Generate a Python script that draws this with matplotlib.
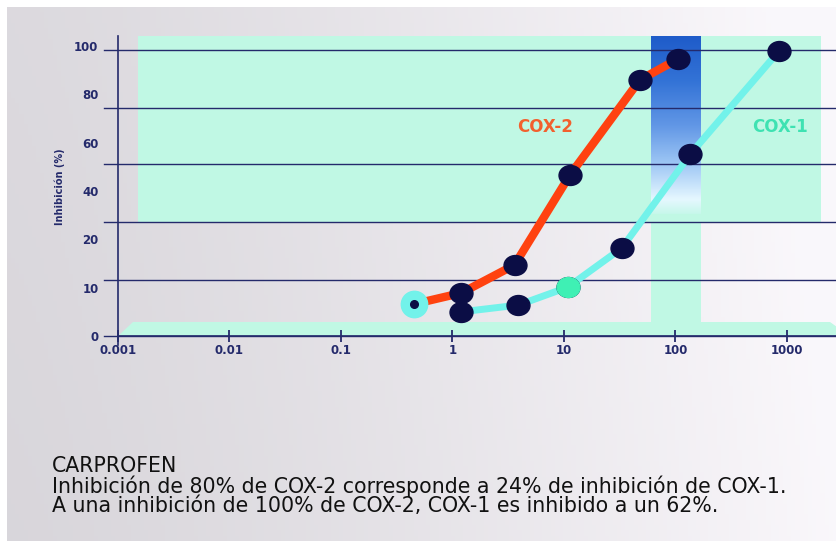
import numpy as np
import matplotlib
matplotlib.use("Agg")
import matplotlib.pyplot as plt
from matplotlib.path import Path
from matplotlib.patches import Polygon, Rectangle

# data (concentration, % inhibition)
cox2_conc = [0.45, 1.2, 3.6, 11.3, 48, 105]
cox2_inhib = [6.6, 8.9, 14.7, 46.6, 86.0, 94.6]
cox1_conc = [1.2, 3.9, 10.8, 33, 136, 850]
cox1_inhib = [5.0, 6.4, 10.1, 18.2, 55.3, 98.0]

y_ticks = [0, 10, 20, 40, 60, 80, 100]
x_ticks = [0.001, 0.01, 0.1, 1, 10, 100, 1000]
x_labels = ["0.001", "0.01", "0.1", "1", "10", "100", "1000"]

caption = ["CARPROFEN",
           "Inhibición de 80% de COX-2 corresponde a 24% de inhibición de COX-1.",
           "A una inhibición de 100% de COX-2, COX-1 es inhibido a un 62%."]

NAVY = "#242a6b"
MINT = "#c0f8e4"
RED = "#ff4210"
CYAN = "#72f2ea"

W, H = 837, 541
fig = plt.figure(figsize=(W / 100, H / 100), dpi=100, facecolor="white")

# decoration layer in pixel coordinates
bg = fig.add_axes([0, 0, 1, 1], zorder=0)
bg.set_xlim(0, W)
bg.set_ylim(H, 0)
bg.axis("off")

gx = np.linspace(0, 1, 200)
gy = np.linspace(0, 1, 100)
GX, GY = np.meshgrid(gx, gy)
left_c = np.array([0.85, 0.84, 0.86])
right_c = np.array([0.98, 0.97, 0.985])
t = np.clip(GX ** 1.3 + 0.1 * (1 - GY), 0, 1)[..., None]
grad = left_c * (1 - t) + right_c * t
bg.imshow(grad, extent=[7, W, H, 7], aspect="auto", zorder=0)

# upper mint panel
bg.add_patch(Rectangle((138, 36), 821 - 138, 222 - 36, color=MINT, lw=0, zorder=1))
# floor strip
bg.add_patch(Polygon([(118, 336), (133, 322), (830, 322), (837, 327), (837, 336)],
                     closed=True, color=MINT, lw=0, zorder=1))
# lower part of highlight band
bg.add_patch(Rectangle((651, 205), 50, 322 - 205, color=MINT, lw=0, zorder=1))
# blue gradient part of highlight band
stops = np.array([[0.12, 0.36, 0.79], [0.20, 0.45, 0.84], [0.38, 0.59, 0.90],
                  [0.62, 0.78, 0.96], [0.90, 0.97, 1.00], [0.78, 0.97, 0.92]])
pos = [0, 0.25, 0.5, 0.72, 0.92, 1.0]
ys = np.linspace(0, 1, 150)
col = np.stack([np.interp(ys, pos, stops[:, k]) for k in range(3)], axis=1)
bg.imshow(col[:, None, :], extent=[651, 701, 214, 36], aspect="auto", zorder=2)

# horizontal guide lines
for gy_px in [50, 108, 164, 222, 280, 336]:
    bg.plot([104, W], [gy_px, gy_px], color=NAVY, lw=1.0, zorder=3)

fig.text(60 / W, 1 - 187 / H, "Inhibición (%)", rotation=90, ha="center", va="center",
         fontsize=7, fontweight="bold", color=NAVY)

# y scale: tick labels equally spaced
sp = [-1000, 0, 10, 20, 40, 60, 80, 100, 1100]
ip = [-100, 0, 1, 2, 3, 4, 5, 6, 56]


def fwd(v):
    return np.interp(v, sp, ip)


def inv(v):
    return np.interp(v, ip, sp)


ax = fig.add_axes([118 / W, 1 - 345 / H, 719 / W, (345 - 36) / H], zorder=1)
ax.patch.set_alpha(0)
ax.set_xscale("log")
ax.set_yscale("function", functions=(fwd, inv))
ax.set_xlim(1e-3, 10 ** (-3 + 719 / 111.5))
ax.set_ylim(inv(-9 / 48.33), inv(300 / 48.33))

for s in ["top", "right"]:
    ax.spines[s].set_visible(False)
ax.spines["left"].set_color(NAVY)
ax.spines["left"].set_linewidth(1.2)
ax.spines["bottom"].set_position(("data", 0))
ax.spines["bottom"].set_color(NAVY)
ax.spines["bottom"].set_linewidth(1.2)

ax.set_xticks(x_ticks)
ax.set_xticklabels(x_labels)
ax.xaxis.set_minor_locator(matplotlib.ticker.NullLocator())
ax.set_yticks(y_ticks)
ax.set_yticklabels([str(v) for v in y_ticks])
ax.yaxis.set_minor_locator(matplotlib.ticker.NullLocator())
ax.tick_params(axis="x", direction="inout", length=9, width=1.3, color=NAVY,
               labelcolor=NAVY, labelsize=8.5, pad=1)
ax.tick_params(axis="y", length=0, pad=14, labelcolor=NAVY, labelsize=8.5)
for lab in ax.get_xticklabels() + ax.get_yticklabels():
    lab.set_fontweight("bold")

ell = Path(Path.unit_circle().vertices * [1.0, 0.87], Path.unit_circle().codes)
DOT = "#0b0d45"

ax.plot(cox1_conc, cox1_inhib, color=CYAN, lw=5, solid_capstyle="round", zorder=3)
ax.plot(cox2_conc, cox2_inhib, color=RED, lw=6, solid_capstyle="round", zorder=4)

ax.scatter(cox1_conc, cox1_inhib, marker=ell, s=16.5 ** 2, c=DOT, zorder=5)
ax.scatter(cox1_conc[2:3], cox1_inhib[2:3], marker=ell, s=16.5 ** 2, c="#3ff0b4", zorder=6)
ax.scatter(cox2_conc[1:], cox2_inhib[1:], marker=ell, s=16.5 ** 2, c=DOT, zorder=6)
ax.scatter(cox2_conc[:1], cox2_inhib[:1], marker="o", s=19 ** 2, c=CYAN, zorder=6)
ax.scatter(cox2_conc[:1], cox2_inhib[:1], marker="o", s=5.5 ** 2, c=DOT, zorder=7)

fig.text(545 / W, 1 - 127 / H, "COX-2", ha="center", va="center", fontsize=12,
         fontweight="bold", color="#f2602e")
fig.text(780 / W, 1 - 127 / H, "COX-1", ha="center", va="center", fontsize=12,
         fontweight="bold", color="#3ee2b2")

for i, line in enumerate(caption):
    fig.text(52 / W, 1 - (466 + 20 * i) / H, line, ha="left", va="center",
             fontsize=14.8, family="DejaVu Sans", color="#111111")

fig.savefig("out.png", dpi=100)
